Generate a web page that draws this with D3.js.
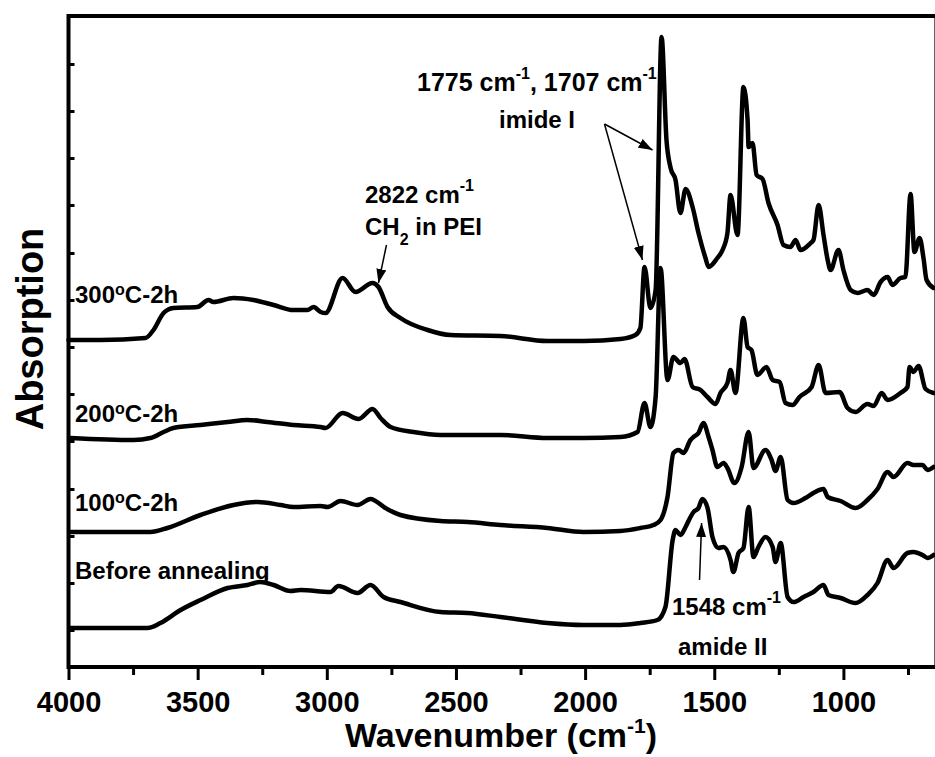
<!DOCTYPE html>
<html><head><meta charset="utf-8">
<script src="https://cdn.jsdelivr.net/npm/d3@7"></script>
<style>
body{margin:0;background:#fff}
svg{display:block}
text{font-family:"Liberation Sans",Arial,sans-serif;font-weight:bold;fill:#000}
</style>
</head><body>
<svg id="c" width="935" height="757"></svg>
<script>
// ---- data: [wavenumber (cm-1), absorption (a.u., offset traces)] ----
const s300 = [[4000,327],[3876,327],[3702,329],[3671,337],[3632,354],[3594,359],[3501,360],[3458,367],[3439,365],[3361,369],[3284,367],[3206,362],[3129,357],[3075,357],[3051,360],[3024,355],[3005,354],[2939,389],[2889,375],[2823,384],[2800,380],[2765,360],[2715,349],[2610,337],[2521,332],[2328,331],[2146,326],[2006,326],[1863,328],[1805,332],[1786,339],[1770,400],[1747,359],[1727,377],[1704,630],[1685,527],[1669,499],[1650,487],[1631,454],[1611,478],[1584,460],[1561,434],[1534,409],[1522,400],[1488,409],[1468,417],[1449,434],[1437,472],[1410,432],[1387,580],[1371,547],[1367,520],[1352,524],[1336,492],[1313,488],[1290,464],[1255,442],[1232,422],[1205,420],[1185,427],[1166,417],[1127,424],[1116,427],[1096,462],[1077,432],[1061,407],[1050,397],[1019,417],[1000,397],[972,377],[945,374],[907,377],[883,372],[856,385],[829,390],[810,382],[779,389],[760,390],[740,473],[725,415],[705,429],[690,409],[678,387],[651,379]];
const s200 = [[3992,229],[3748,227],[3683,229],[3632,235],[3594,239],[3489,242],[3384,245],[3307,247],[3230,245],[3129,242],[3024,240],[3005,239],[2939,254],[2877,248],[2823,258],[2792,249],[2753,240],[2664,235],[2560,232],[2328,232],[2146,229],[2006,229],[1863,230],[1797,235],[1770,264],[1747,240],[1727,270],[1708,399],[1681,287],[1658,310],[1631,304],[1615,308],[1584,280],[1553,277],[1526,270],[1495,263],[1476,274],[1449,284],[1437,297],[1418,274],[1387,349],[1371,320],[1356,317],[1333,292],[1298,300],[1274,287],[1247,285],[1224,264],[1197,262],[1170,270],[1123,280],[1096,302],[1069,274],[1015,275],[984,259],[953,255],[907,263],[883,261],[852,274],[829,267],[779,274],[752,280],[744,300],[729,295],[709,301],[682,278],[651,274]];
const s100 = [[3992,135],[3683,135],[3617,139],[3489,152],[3361,162],[3268,165],[3179,162],[3129,160],[3024,161],[2997,160],[2947,166],[2881,162],[2831,168],[2773,159],[2715,152],[2560,146],[2455,145],[2328,142],[2146,139],[2006,135],[1863,136],[1786,139],[1735,142],[1708,147],[1681,170],[1658,214],[1638,217],[1619,214],[1592,227],[1580,230],[1561,234],[1542,244],[1522,230],[1507,217],[1488,200],[1464,204],[1449,199],[1422,184],[1394,200],[1367,235],[1348,199],[1302,217],[1278,207],[1263,196],[1243,210],[1216,167],[1193,164],[1147,169],[1116,174],[1077,178],[1061,170],[1011,166],[953,159],[907,167],[868,178],[829,195],[806,190],[752,204],[729,202],[694,202],[674,197],[651,200]];
const sBefore = [[3992,39],[3694,39],[3644,44],[3566,57],[3489,67],[3384,79],[3307,82],[3257,85],[3206,82],[3141,76],[3102,77],[2986,75],[2955,81],[2881,74],[2831,82],[2780,70],[2715,65],[2560,55],[2455,54],[2328,50],[2146,44],[2006,42],[1863,42],[1786,44],[1720,47],[1689,60],[1661,127],[1650,137],[1631,132],[1611,140],[1592,150],[1580,155],[1561,159],[1546,168],[1526,159],[1507,130],[1484,119],[1464,120],[1437,107],[1426,95],[1406,114],[1387,119],[1367,160],[1348,110],[1329,120],[1302,130],[1274,120],[1263,105],[1243,124],[1216,70],[1193,65],[1154,70],[1116,75],[1077,82],[1058,72],[1011,69],[953,64],[907,72],[868,84],[829,107],[806,99],[752,114],[729,115],[694,112],[674,109],[651,112]];

const seriesList = [s300, s200, s100, sBefore];
const majorTicks = [4000, 3500, 3000, 2500, 2000, 1500, 1000];
const minorTicks = [3750, 3250, 2750, 2250, 1750, 1250, 750];
const yTicks = [37, 84, 131, 178, 226, 273, 320, 367, 414, 462, 509, 556, 603];

// ---- scales ----
const svg = d3.select("#c");
const x = d3.scaleLinear().domain([4000, 640]).range([68.5, 936.4]);
const y = d3.scaleLinear().domain([0, 651]).range([667, 16]);

// frame
svg.append("rect")
  .attr("x", x(4000)).attr("y", y(651))
  .attr("width", x(640) - x(4000)).attr("height", y(0) - y(651))
  .attr("fill", "none").attr("stroke", "#000").attr("stroke-width", 4);

// x axis
const gx = svg.append("g").attr("transform", `translate(0,${y(0)})`);
gx.call(d3.axisBottom(x).tickValues(majorTicks).tickSize(13).tickPadding(11).tickFormat(d3.format("d")));
const gxm = svg.append("g").attr("transform", `translate(0,${y(0)})`);
gxm.call(d3.axisBottom(x).tickValues(minorTicks).tickSize(8).tickFormat(""));
[gx, gxm].forEach(g => {
  g.select(".domain").remove();
  g.selectAll("line").attr("stroke", "#000").attr("stroke-width", 3);
});
gx.selectAll("text").attr("font-size", 29).attr("font-family", '"Liberation Sans",Arial,sans-serif').attr("font-weight", "bold").attr("fill", "#000");

// y axis (inward ticks, no labels)
const gy = svg.append("g").attr("transform", `translate(${x(4000)},0)`);
gy.call(d3.axisRight(y).tickValues(yTicks).tickSize(6).tickFormat(""));
gy.select(".domain").remove();
gy.selectAll("line").attr("stroke", "#000").attr("stroke-width", 3);

// curves
const line = d3.line().x(d => x(d[0])).y(d => y(d[1])).curve(d3.curveMonotoneX);
svg.selectAll("path.spec").data(seriesList).join("path")
  .attr("class", "spec")
  .attr("d", line)
  .attr("fill", "none").attr("stroke", "#000")
  .attr("stroke-width", 4.5).attr("stroke-linejoin", "round").attr("stroke-linecap", "round");

// axis titles
const xt = svg.append("text").attr("x", 501).attr("y", 747).attr("text-anchor", "middle").attr("font-size", 34);
xt.append("tspan").text("Wavenumber (cm");
xt.append("tspan").attr("font-size", 21).attr("dy", -14).text("-1");
xt.append("tspan").attr("dy", 14).text(")");

svg.append("text").attr("transform", "translate(43,329) rotate(-90)")
  .attr("text-anchor", "middle").attr("font-size", 38).text("Absorption");

// sample labels
function degLabel(px, py, num) {
  const t = svg.append("text").attr("x", px).attr("y", py).attr("font-size", 24);
  t.append("tspan").text(num);
  t.append("tspan").attr("font-size", 16).attr("dy", -8).text("o");
  t.append("tspan").attr("dy", 8).text("C-2h");
}
degLabel(75, 303, "300");
degLabel(75, 422, "200");
degLabel(75, 511, "100");
svg.append("text").attr("x", 75).attr("y", 579).attr("font-size", 24).text("Before annealing");

// annotations
function supText(px, py, parts, size) {
  const t = svg.append("text").attr("x", px).attr("y", py).attr("font-size", size);
  parts.forEach(p => {
    if (p.sup) t.append("tspan").attr("font-size", 16).attr("dy", -12).text(p.t);
    else if (p.sub) t.append("tspan").attr("font-size", 16).attr("dy", 10).text(p.t);
    else t.append("tspan").attr("dy", p.back || 0).text(p.t);
  });
  return t;
}
supText(417, 91, [{t:"1775 cm"},{t:"-1",sup:true},{t:", 1707 cm",back:12},{t:"-1",sup:true}], 25);
svg.append("text").attr("x", 499).attr("y", 128).attr("font-size", 24).text("imide I");
supText(365, 203, [{t:"2822 cm"},{t:"-1",sup:true}], 24);
supText(365, 235, [{t:"CH"},{t:"2",sub:true},{t:" in PEI",back:-10}], 24);
supText(672, 615, [{t:"1548 cm"},{t:"-1",sup:true}], 24);
svg.append("text").attr("x", 678).attr("y", 655).attr("font-size", 24).text("amide II");

// arrows
const defs = svg.append("defs");
defs.append("marker").attr("id", "ah").attr("viewBox", "0 0 14 10")
  .attr("refX", 14).attr("refY", 5).attr("markerWidth", 14).attr("markerHeight", 10)
  .attr("markerUnits", "userSpaceOnUse").attr("orient", "auto")
  .append("path").attr("d", "M0,0 L14,5 L0,10 Z").attr("fill", "#000");
const arrows = [
  [[1925,543],[1739,517]],
  [[1925,543],[1778,407]],
  [[2769,422],[2800,384]],
  [[1557,87],[1549,144]]
];
svg.selectAll("line.arr").data(arrows).join("line")
  .attr("class", "arr")
  .attr("x1", d => x(d[0][0])).attr("y1", d => y(d[0][1]))
  .attr("x2", d => x(d[1][0])).attr("y2", d => y(d[1][1]))
  .attr("stroke", "#000").attr("stroke-width", 1.5).attr("marker-end", "url(#ah)");
</script>
</body></html>
